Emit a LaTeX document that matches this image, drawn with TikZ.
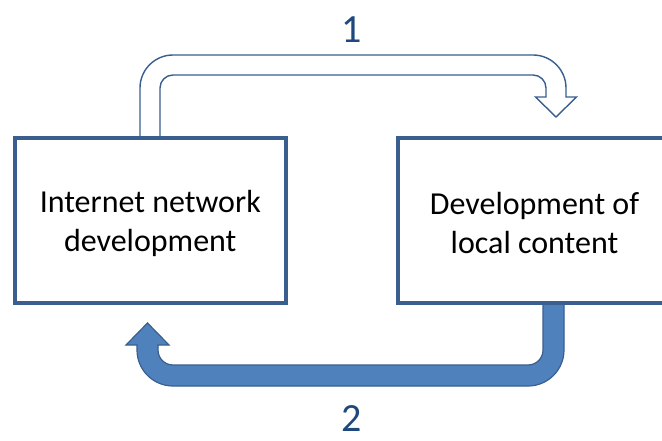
\documentclass[tikz,border=0pt]{standalone}
\usepackage{fontspec}
\setmainfont{Carlito}
\definecolor{boxline}{HTML}{3A5F8E}
\definecolor{arrowfill}{HTML}{4F81BD}
\definecolor{arrowline}{HTML}{3A5F8E}
\definecolor{labelblue}{HTML}{1F497D}
\tikzset{
  box/.style={draw=boxline, line width=4pt, fill=white, align=center,
    minimum height=165pt, inner sep=0pt,
    font=\fontsize{32}{39}\selectfont},
  boxtext/.style={align=center, inner sep=0pt, font=\fontsize{32}{39}\selectfont},
  hollowarrow/.style={draw=arrowline, line width=1.4pt, fill=white, line join=miter},
  solidarrow/.style={draw=arrowline, line width=1.2pt, fill=arrowfill, line join=miter},
  numlabel/.style={text=labelblue, anchor=base, inner sep=0pt,
    font=\fontsize{40}{48}\selectfont}
}
\begin{document}
\begin{tikzpicture}[x=1pt,y=1pt]
\clip (0,0) rectangle (662,440);
\fill[white] (0,0) rectangle (662,440);
% arrow 1 (hollow)
\path[hollowarrow] (140,302) -- (140,352) arc[start angle=180,end angle=90,radius=33]
  -- (533,385) arc[start angle=90,end angle=0,radius=33]
  -- (566,343) -- (576.5,343) -- (556,323) -- (535.5,343) -- (546,343) -- (546,352)
  arc[start angle=0,end angle=90,radius=13]
  -- (173,365) arc[start angle=90,end angle=180,radius=13]
  -- (160,302) -- cycle;
% arrow 2 (solid)
\path[solidarrow] (543,137) -- (543,90) arc[start angle=0,end angle=-90,radius=15]
  -- (173,75) arc[start angle=270,end angle=180,radius=15]
  -- (158,95) -- (169,95) -- (147.5,117) -- (126,95) -- (137,95) -- (137,90)
  arc[start angle=180,end angle=270,radius=36]
  -- (528,54) arc[start angle=270,end angle=360,radius=36]
  -- (564,137) -- cycle;
% boxes
\node[box, minimum width=271.5pt] (inet) at (150.25,219.5) {};
\node[box, minimum width=273pt] (local) at (534.5,219.5) {};
\node[boxtext] (inettext) at ([yshift=-3pt]inet.center) {Internet network\\development};
\node[boxtext] (localtext) at ([yshift=-3pt]534.5,219.5) {Development of\\local content};
% labels
\node[numlabel] (one) at (351.5,397) {1};
\node[numlabel] (two) at (351.5,9) {2};
\end{tikzpicture}
\end{document}
